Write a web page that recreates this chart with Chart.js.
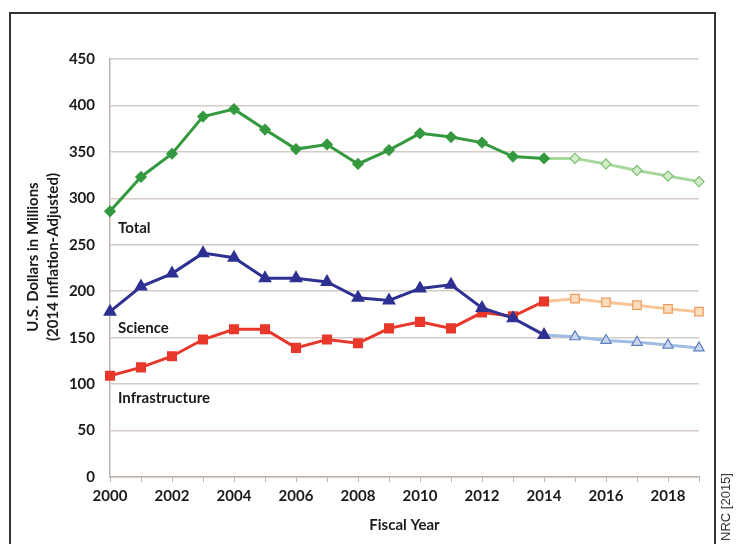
<!DOCTYPE html>
<html lang="en">
<head>
  <meta charset="UTF-8" />
  <title>Fiscal Year Spending</title>
  <script src="https://cdn.jsdelivr.net/npm/chart.js"></script>
  <style>
    body {
      margin: 0;
      background: #fff;
      font-family: Lato, sans-serif;
    }
    .frame {
      position: absolute;
      left: 9px;
      top: 12px;
      width: 703px;
      height: 560px;
      border: 2px solid #333;
    }
    #grafica {
      position: absolute;
      left: 0;
      top: 0;
    }
    .fuente {
      position: absolute;
      left: 676px;
      top: 499px;
      width: 100px;
      line-height: 16px;
      transform: rotate(-90deg);
      font-family: "Liberation Sans", Arial, sans-serif;
      font-size: 13px;
      color: #333;
      text-align: center;
    }
  </style>
</head>
<body>
  <div class="frame"></div>
  <canvas id="grafica" width="742" height="544"></canvas>
  <div class="fuente">NRC [2015]</div>
<script>
  const years = ['2000','2001','2002','2003','2004','2005','2006','2007','2008','2009',
                 '2010','2011','2012','2013','2014','2015','2016','2017','2018','2019'];

  // valores reales 2000-2014
  const totalActual = [286, 323, 348, 388, 396, 374, 353, 358, 337, 352, 370, 366, 360, 345, 343];
  const scienceActual = [178, 205, 219, 241, 236, 214, 214, 210, 193, 190, 203, 207, 182, 171, 153];
  const infraActual = [109, 118, 130, 148, 159, 159, 139, 148, 144, 160, 167, 160, 177, 173, 189];

  // proyecciones 2014-2019
  const totalProj = [343, 343, 337, 330, 324, 318];
  const scienceProj = [153, 151, 147, 145, 142, 139];
  const infraProj = [189, 192, 188, 185, 181, 178];

  const seriesLabels = ['Total', 'Science', 'Infrastructure'];
  const labelValues = [268, 160, 85];

  const yTicks = [0, 50, 100, 150, 200, 250, 300, 350, 400, 450];
  const yTitle = ['U.S. Dollars in Millions', '(2014 Inflation-Adjusted)'];

  function actual(arr) {
    return years.map((y, i) => i < arr.length ? arr[i] : null);
  }
  function proj(arr) {
    const start = years.length - arr.length;
    return years.map((y, i) => i >= start ? arr[i - start] : null);
  }
  function projRadius(arr, r) {
    const start = years.length - arr.length;
    return years.map((y, i) => i === start ? 0 : r);
  }

  // etiquetas de series y título del eje Y
  const etiquetas = {
    id: 'etiquetas',
    afterDatasetsDraw(chart) {
      const ctx = chart.ctx;
      const x = chart.scales.x.getPixelForValue(0) + 8;
      ctx.save();
      ctx.font = 'bold 15px Lato, sans-serif';
      ctx.fillStyle = '#1a1a1a';
      ctx.textBaseline = 'middle';
      seriesLabels.forEach((t, i) => {
        ctx.fillText(t, x, chart.scales.y.getPixelForValue(labelValues[i]));
      });
      ctx.restore();

      ctx.save();
      ctx.font = 'bold 15px Lato, sans-serif';
      ctx.fillStyle = '#1a1a1a';
      ctx.textAlign = 'center';
      ctx.textBaseline = 'middle';
      ctx.translate(43, 257);
      ctx.rotate(-Math.PI / 2);
      ctx.fillText(yTitle[0], 0, -10);
      ctx.fillText(yTitle[1], 0, 10);
      ctx.restore();
    }
  };

  const ctx = document.getElementById('grafica').getContext('2d');
  new Chart(ctx, {
    type: 'line',
    data: {
      labels: years,
      datasets: [
        {
          label: 'Total', data: actual(totalActual),
          borderColor: '#34993f', backgroundColor: '#34993f', borderWidth: 3,
          pointStyle: 'rectRot', pointRadius: 4, tension: 0, order: 1
        },
        {
          label: 'Science', data: actual(scienceActual),
          borderColor: '#2e3192', backgroundColor: '#2e3192', borderWidth: 3,
          pointStyle: 'triangle', pointRadius: 5, tension: 0, order: 1
        },
        {
          label: 'Infrastructure', data: actual(infraActual),
          borderColor: '#e8382b', backgroundColor: '#e8382b', borderWidth: 3,
          pointStyle: 'rect', pointRadius: 5, tension: 0, order: 1
        },
        {
          label: 'Total (proj)', data: proj(totalProj),
          borderColor: '#a9d89f', backgroundColor: '#d5ecc9', pointBorderColor: '#7fbf74',
          borderWidth: 3, pointBorderWidth: 1.2,
          pointStyle: 'rectRot', pointRadius: projRadius(totalProj, 5), tension: 0, order: 2
        },
        {
          label: 'Science (proj)', data: proj(scienceProj),
          borderColor: '#9fbde3', backgroundColor: '#c8d9ef', pointBorderColor: '#5f7fc0',
          borderWidth: 3, pointBorderWidth: 1.2,
          pointStyle: 'triangle', pointRadius: projRadius(scienceProj, 6), tension: 0, order: 2
        },
        {
          label: 'Infrastructure (proj)', data: proj(infraProj),
          borderColor: '#f8c596', backgroundColor: '#fcdcbd', pointBorderColor: '#ef9a5e',
          borderWidth: 3, pointBorderWidth: 1.2,
          pointStyle: 'rect', pointRadius: projRadius(infraProj, 6), tension: 0, order: 2
        }
      ]
    },
    options: {
      responsive: false,
      animation: false,
      spanGaps: false,
      layout: { padding: { left: 60, right: 43, top: 59, bottom: 10 } },
      plugins: {
        legend: { display: false },
        tooltip: { enabled: false }
      },
      scales: {
        x: {
          offset: false,
          afterFit: s => { s.height = 57; },
          grid: { drawOnChartArea: false, drawTicks: true, tickLength: 5, color: '#bdb3ad' },
          border: { color: '#bdb3ad', width: 1.5 },
          ticks: {
            autoSkip: false, maxRotation: 0, color: '#1a1a1a', padding: 5,
            font: { family: 'Lato, sans-serif', size: 15, weight: 'bold' },
            callback: (v, i) => i % 2 === 0 ? years[i] : ''
          },
          title: {
            display: true, text: 'Fiscal Year', color: '#1a1a1a', padding: { top: 2, bottom: 0 },
            font: { family: 'Lato, sans-serif', size: 15, weight: 'bold' }
          }
        },
        y: {
          min: 0, max: 450,
          afterFit: s => { s.width = 50; },
          afterBuildTicks: s => { s.ticks = yTicks.map(v => ({ value: v })); },
          grid: { color: '#d6ccc6', lineWidth: 1.5, drawTicks: false },
          border: { color: '#bdb3ad', width: 1.5 },
          ticks: {
            color: '#1a1a1a', padding: 15,
            font: { family: 'Lato, sans-serif', size: 15, weight: 'bold' }
          }
        }
      }
    },
    plugins: [etiquetas]
  });
</script>
</body>
</html>
